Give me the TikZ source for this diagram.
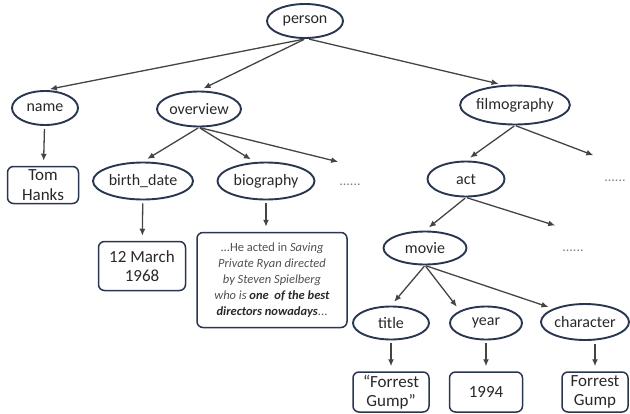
\documentclass[tikz,border=0pt]{standalone}
\usepackage{fontspec}
\setmainfont{Carlito}
\usetikzlibrary{shapes.geometric,arrows.meta}

\definecolor{rimblue}{RGB}{40,54,80}
\definecolor{arrgray}{RGB}{68,68,68}
\definecolor{txtgray}{RGB}{40,40,40}
\definecolor{biogray}{RGB}{80,80,80}

\begin{document}
\begin{tikzpicture}
    [x=1pt, y=-1pt,
    attr/.style={ellipse, draw=rimblue, line width=1.9pt, inner sep=0pt,
      text=txtgray, font=\fontsize{16}{17}\selectfont},
    leaf/.style={rectangle, rounded corners=6pt, draw=rimblue, line width=1.5pt,
      inner sep=0pt, align=center, text=txtgray,
      font=\fontsize{17}{19.5}\selectfont},
    more/.style={anchor=base, text=gray, font=\fontsize{14}{14}\selectfont},
    link/.style={->, >={Latex[length=7pt,width=6pt]}, draw=arrgray,
      line width=1.3pt, shorten <=1pt, shorten >=5pt},
    down/.style={link, shorten <=3pt, shorten >=5pt}]
    \useasboundingbox (0,0) rectangle (630,413);

    % tree of elements
    \node[attr, minimum width=76, minimum height=34] (person) at (305,21) {person};
    \node[attr, minimum width=66, minimum height=34] (name) at (45,108) {name};
    \node[attr, minimum width=83, minimum height=35] (overview) at (199,109) {overview};
    \node[attr, minimum width=109, minimum height=39] (filmo) at (515,105) {filmography};
    \node[attr, minimum width=100, minimum height=37] (birth) at (143,181) {birth\_date};
    \node[attr, minimum width=97, minimum height=37] (bio) at (266,181) {biography};
    \node[attr, minimum width=77, minimum height=35] (act) at (466,179) {act};
    \node[attr, minimum width=83, minimum height=33] (movie) at (425,248) {movie};
    \node[attr, minimum width=76, minimum height=33] (title) at (391,323) {title};
    \node[attr, minimum width=72, minimum height=33] (year) at (486,323) {year};
    \node[attr, minimum width=88, minimum height=36] (charac) at (585,322) {character};

    % values
    \node[leaf, minimum width=71, minimum height=37] (tom) at (43,185) {Tom\\Hanks};
    \node[leaf, minimum width=87, minimum height=49] (date) at (142,266) {12 March\\1968};
    \node[leaf, minimum width=150, minimum height=95, text=biogray,
      font=\fontsize{12.5}{16}\selectfont] (biotext) at (272,280)
      {...He acted in \textit{Saving}\\
       \textit{Private Ryan directed}\\
       \textit{by Steven Spielberg}\\
       \textit{who is} \textcolor{txtgray}{\textbf{\textit{one\ \ of the best}}}\\
       \textcolor{txtgray}{\textbf{\textit{directors nowadays}}}...};
    \node[leaf, minimum width=76, minimum height=40] (fgquote) at (391,392) {``Forrest\\Gump''};
    \node[leaf, minimum width=73, minimum height=40] (yval) at (486,392) {1994};
    \node[leaf, minimum width=66, minimum height=40] (fgname) at (595,392) {Forrest\\Gump};

    % elided children
    \node[more] (dotsov) at (350,185) {......};
    \node[more] (dotsfi) at (615,181) {......};
    \node[more] (dotsact) at (573,251) {......};
    \coordinate (ovend) at (343,163);
    \coordinate (fiend) at (598,157);
    \coordinate (actend) at (560,227);

    \draw[link] (person.south) -- (name.north);
    \draw[link] (person.south) -- (overview.north);
    \draw[link] (person.-80) -- (filmo.120);
    \draw[link] (overview.south) -- (birth.north);
    \draw[link] (overview.south) -- (bio.120);
    \draw[link] (overview.south) -- (ovend);
    \draw[link] (filmo.south) -- (act.north);
    \draw[link] (filmo.south) -- (fiend);
    \draw[link] (act.south) -- (movie.north);
    \draw[link] (act.south) -- (actend);
    \draw[link] (movie.south) -- (title.north);
    \draw[link] (movie.south) -- (year.north west);
    \draw[link] (movie.south) -- (charac.north west);

    \draw[down] (name) -- (tom);
    \draw[down] (birth) -- (date);
    \draw[down] (bio.south) -- (bio.south |- biotext.north);
    \draw[down] (title) -- (fgquote);
    \draw[down] (year) -- (yval);
    \draw[down] (charac.south -| fgname) -- (fgname);
  \end{tikzpicture}
\end{document}
